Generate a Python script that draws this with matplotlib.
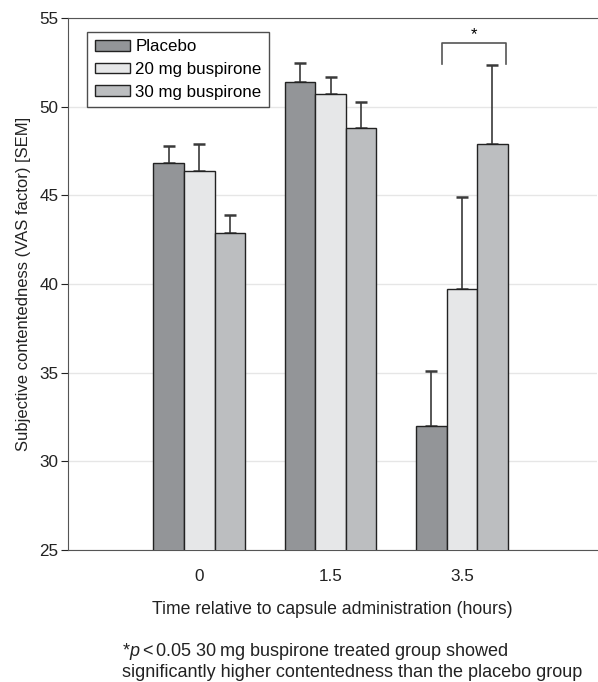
import numpy as np
import matplotlib
matplotlib.use("Agg")
import matplotlib.pyplot as plt

plt.rcParams['font.family'] = ['Liberation Sans', 'DejaVu Sans']
plt.rcParams['mathtext.fontset'] = 'custom'
plt.rcParams['mathtext.rm'] = 'Liberation Sans'
plt.rcParams['mathtext.it'] = 'Liberation Sans:italic'

times = ["0", "1.5", "3.5"]
groups = ["Placebo", "20 mg buspirone", "30 mg buspirone"]
means = {
    "Placebo": [46.8, 51.4, 32.0],
    "20 mg buspirone": [46.4, 50.7, 39.7],
    "30 mg buspirone": [42.9, 48.8, 47.9],
}
sem = {
    "Placebo": [1.0, 1.05, 3.1],
    "20 mg buspirone": [1.5, 1.0, 5.2],
    "30 mg buspirone": [1.0, 1.45, 4.45],
}
colors = ["#939598", "#e6e7e8", "#bcbec0"]

fig = plt.figure(figsize=(5.98, 6.82), dpi=100)
ax = fig.add_axes([68 / 598, 132 / 682, 529 / 598, 532 / 682])

x = np.arange(len(times))
w = 0.233
for i, g in enumerate(groups):
    pos = x + (i - 1) * w
    ax.bar(pos, means[g], w, color=colors[i], edgecolor="#222222",
           linewidth=1.0, label=g, zorder=3)
    # one-sided error bars, lower cap hidden behind the bar
    ax.errorbar(pos, means[g], yerr=[np.zeros(3), sem[g]], fmt="none",
                ecolor="#3a3a3a", elinewidth=1.2, capsize=4, capthick=1.8,
                zorder=2.5)

# significance bracket
bx = [1.852, 1.852, 2.338, 2.338]
by = [52.4, 53.57, 53.57, 52.4]
ax.plot(bx, by, color="#555555", lw=1.2, zorder=5)
ax.text(2.09, 53.65, "*", ha="center", va="bottom", fontsize=12)

ax.set_ylim(25, 55)
ax.set_xlim(-1.0, 3.03)
ax.set_yticks([25, 30, 35, 40, 45, 50, 55])
ax.set_xticks(x)
ax.set_xticklabels(times)
ax.tick_params(axis="x", length=0, pad=14, labelsize=12.3, colors="#222222")
ax.tick_params(axis="y", length=5, width=0.8, pad=2, labelsize=12.3,
               colors="#222222")
ax.yaxis.grid(True, color="#e6e6e6", lw=1.0, zorder=0)
ax.set_axisbelow(True)
ax.spines["right"].set_visible(False)
for s in ["top", "left", "bottom"]:
    ax.spines[s].set_color("#555555")

ax.set_ylabel("Subjective contentedness (VAS factor) [SEM]", fontsize=12,
              color="#222222", labelpad=6)
ax.set_xlabel("Time relative to capsule administration (hours)", fontsize=12.7,
              color="#222222", labelpad=12)

leg = ax.legend(loc="upper left", bbox_to_anchor=(0.036, 0.974), fontsize=12.2,
                frameon=True, fancybox=False, edgecolor="#222222",
                handlelength=2.1, handleheight=0.6, labelspacing=0.45,
                borderpad=0.45, handletextpad=0.3, borderaxespad=0)
leg.get_frame().set_linewidth(1.0)

fig.text(122 / 598, 1 - 641 / 682,
         "*$p$$<$0.05 30\u2009mg buspirone treated group showed\n"
         "significantly higher contentedness than the placebo group",
         ha="left", va="top", fontsize=13, linespacing=1.12,
         color="#222222")

fig.savefig("out.png", dpi=100)
